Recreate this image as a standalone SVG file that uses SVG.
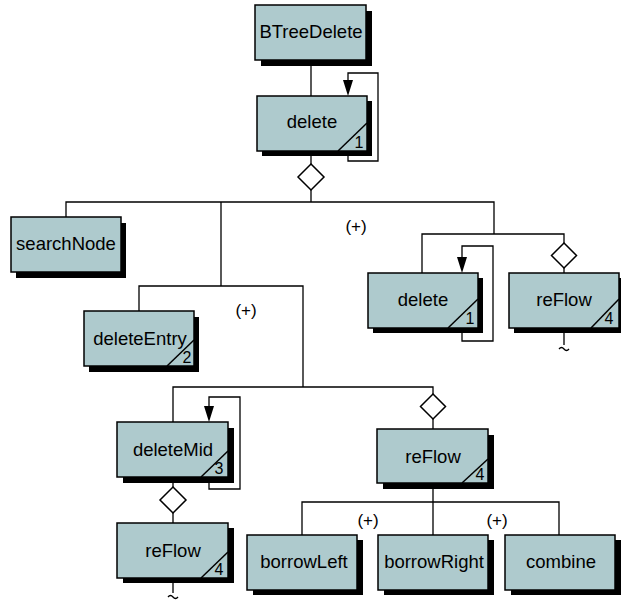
<svg xmlns="http://www.w3.org/2000/svg" width="621" height="603" viewBox="0 0 621 603">
<style>
.sh{fill:#000}
.bx{fill:#aecacd;stroke:#000;stroke-width:1.5}
.lb{font-family:"Liberation Sans",Arial,sans-serif;font-size:18.5px;text-anchor:middle;fill:#000}
.nm{font-family:"Liberation Sans",Arial,sans-serif;font-size:16px;text-anchor:middle;fill:#000}
.pl{font-family:"Liberation Sans",Arial,sans-serif;font-size:17px;text-anchor:middle;fill:#000}
.dg{stroke:#000;stroke-width:1.5;fill:none}
.ln{stroke:#000;stroke-width:1.3;fill:none}
.dm{fill:#fff;stroke:#000;stroke-width:1.5}
.ah{fill:#000}
</style>
<rect width="621" height="603" fill="#fff"/>
<g id="connectors">
<path class="ln" d="M311,61 V96"/>
<path class="ln" d="M348,156 V161 H378 V73 H348 V80"/>
<polygon class="ah" points="343,80 353,80 348,96"/>
<path class="ln" d="M311,151 V164 M311,190 V202"/>
<polygon class="dm" points="311,164 324,177 311,190 298,177"/>
<path class="ln" d="M66,217 V202 H494 V234 M221,202 V286"/>
<path class="ln" d="M422,273 V234 H564 V243 M564,268 V273"/>
<polygon class="dm" points="564,243 576.5,255.5 564,268 551.5,255.5"/>
<path class="ln" d="M462,333 V341 H493 V246 H462 V257"/>
<polygon class="ah" points="457,257 467,257 462,273"/>
<path class="ln" d="M564,333 V345 M559,349 q2.5,-3 5,0 t5,0"/>
<path class="ln" d="M139,311 V286 H303 V387 M173,422 V387 H433 V394 M433,419 V429"/>
<polygon class="dm" points="433,394 445.5,406.5 433,419 420.5,406.5"/>
<path class="ln" d="M209,483 V489 H240 V397 H209 V406"/>
<polygon class="ah" points="204,406 214,406 209,422"/>
<path class="ln" d="M173,477 V487 M173,513 V523"/>
<polygon class="dm" points="173,487 186,500 173,513 160,500"/>
<path class="ln" d="M173,583 V593 M168,597 q2.5,-3 5,0 t5,0"/>
<path class="ln" d="M433,489 V535 M302,535 V502 H559 V535"/>
<text class="pl" x="356" y="232">(+)</text>
<text class="pl" x="246" y="316">(+)</text>
<text class="pl" x="368" y="526">(+)</text>
<text class="pl" x="497" y="526">(+)</text>
</g>
<g id="BTreeDelete">
<rect class="sh" x="261" y="11" width="111" height="55"/>
<rect class="bx" x="255" y="5" width="111" height="55"/>
<text class="lb" x="311" y="38">BTreeDelete</text>
</g>
<g id="delete1">
<rect class="sh" x="262" y="101" width="110" height="55"/>
<rect class="bx" x="257" y="96" width="110" height="55"/>
<text class="lb" x="312" y="128">delete</text>
<path class="dg" d="M338,151 L367,123"/>
<text class="nm" x="359" y="148">1</text>
</g>
<g id="searchNode">
<rect class="sh" x="16" y="223" width="110" height="55"/>
<rect class="bx" x="11" y="217" width="110" height="55"/>
<text class="lb" x="66" y="250">searchNode</text>
</g>
<g id="deleteEntry">
<rect class="sh" x="89" y="317" width="110" height="55"/>
<rect class="bx" x="84" y="311" width="110" height="55"/>
<text class="lb" x="140" y="345">deleteEntry</text>
<path class="dg" d="M167,366 L194,340"/>
<text class="nm" x="187" y="363">2</text>
</g>
<g id="delete2">
<rect class="sh" x="373" y="278" width="110" height="55"/>
<rect class="bx" x="368" y="273" width="110" height="55"/>
<text class="lb" x="423" y="306">delete</text>
<path class="dg" d="M448,328 L478,299"/>
<text class="nm" x="470" y="324">1</text>
</g>
<g id="reFlowRight">
<rect class="sh" x="514" y="278" width="110" height="55"/>
<rect class="bx" x="509" y="273" width="110" height="55"/>
<text class="lb" x="564" y="306">reFlow</text>
<path class="dg" d="M591,328 L619,299"/>
<text class="nm" x="609" y="324">4</text>
</g>
<g id="deleteMid">
<rect class="sh" x="123" y="428" width="111" height="55"/>
<rect class="bx" x="117" y="422" width="111" height="55"/>
<text class="lb" x="173" y="456">deleteMid</text>
<path class="dg" d="M201,477 L228,451"/>
<text class="nm" x="219" y="474">3</text>
</g>
<g id="reFlowLeft">
<rect class="sh" x="123" y="528" width="111" height="55"/>
<rect class="bx" x="117" y="523" width="111" height="55"/>
<text class="lb" x="173" y="557">reFlow</text>
<path class="dg" d="M201,578 L228,552"/>
<text class="nm" x="219" y="575">4</text>
</g>
<g id="reFlowMid">
<rect class="sh" x="383" y="435" width="111" height="54"/>
<rect class="bx" x="377" y="429" width="111" height="54"/>
<text class="lb" x="433" y="463">reFlow</text>
<path class="dg" d="M462,483 L488,459"/>
<text class="nm" x="480" y="480">4</text>
</g>
<g id="borrowLeft">
<rect class="sh" x="253" y="540" width="110" height="55"/>
<rect class="bx" x="247" y="535" width="110" height="55"/>
<text class="lb" x="304" y="568">borrowLeft</text>
</g>
<g id="borrowRight">
<rect class="sh" x="384" y="540" width="110" height="55"/>
<rect class="bx" x="378" y="535" width="110" height="55"/>
<text class="lb" x="434" y="568">borrowRight</text>
</g>
<g id="combine">
<rect class="sh" x="511" y="540" width="110" height="55"/>
<rect class="bx" x="505" y="535" width="110" height="55"/>
<text class="lb" x="561" y="568">combine</text>
</g>
</svg>
